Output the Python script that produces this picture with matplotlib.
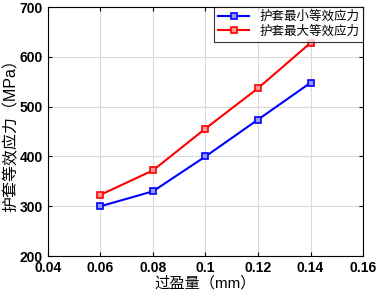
import numpy as np
import matplotlib
matplotlib.use("Agg")
import matplotlib.pyplot as plt

plt.rcParams['font.family'] = ['Liberation Sans', 'Noto Sans CJK SC']

# Data
interference = [0.06, 0.08, 0.10, 0.12, 0.14]
stress_min = [300, 330, 400, 474, 548]
stress_max = [323, 372, 456, 537, 628]
labels = ['护套最小等效应力', '护套最大等效应力']

fig = plt.figure(figsize=(3.77, 2.93), dpi=100)
ax = fig.add_axes([0.127, 0.126, 0.836, 0.850])

ax.plot(interference, stress_min, color='#0000ff', marker='s', markersize=4,
        markerfacecolor='#9999ff', markeredgewidth=1.2, linewidth=1.5, label=labels[0])
ax.plot(interference, stress_max, color='#ff0000', marker='s', markersize=4,
        markerfacecolor='#ff9999', markeredgewidth=1.2, linewidth=1.5, label=labels[1])

ax.set_xlim(0.04, 0.16)
ax.set_ylim(200, 700)
ax.set_xticks([0.04, 0.06, 0.08, 0.1, 0.12, 0.14, 0.16])
ax.set_xticklabels(['0.04', '0.06', '0.08', '0.1', '0.12', '0.14', '0.16'])
ax.set_yticks([200, 300, 400, 500, 600, 700])
ax.grid(True, color='#d9d9d9', linewidth=0.8)
ax.tick_params(direction='in', top=True, right=True, labelsize=10, width=0.8, length=3)
for lbl in ax.get_xticklabels() + ax.get_yticklabels():
    lbl.set_fontweight('bold')
for s in ax.spines.values():
    s.set_linewidth(0.8)

ax.set_xlabel('过盈量（mm）', fontsize=11, labelpad=1)
ax.set_ylabel('护套等效应力（MPa）', fontsize=11.5, labelpad=1)

leg = ax.legend(loc='upper right', fontsize=9, frameon=True, fancybox=False,
                edgecolor='black', borderaxespad=0, handlelength=2.5,
                borderpad=0.3, labelspacing=0.2)
leg.get_frame().set_linewidth(0.8)

fig.savefig('out.png', dpi=100)
